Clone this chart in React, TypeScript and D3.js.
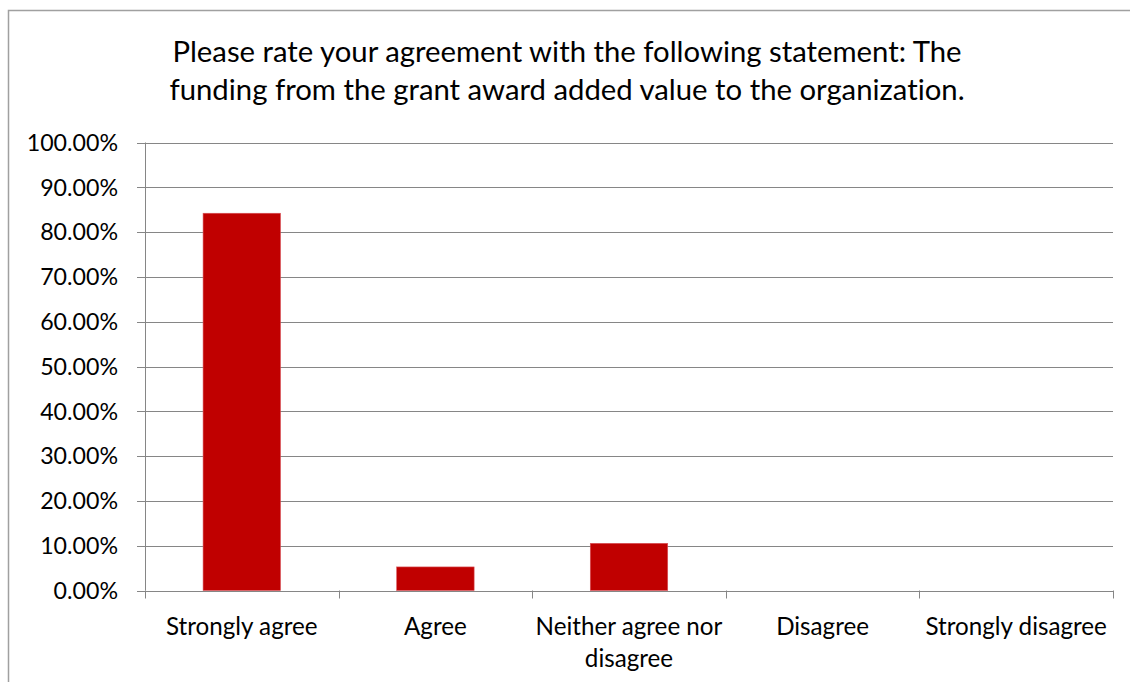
import React from "react";
import * as d3 from "d3";

const categories: string[][] = [
  ["Strongly agree"],
  ["Agree"],
  ["Neither agree nor", "disagree"],
  ["Disagree"],
  ["Strongly disagree"],
];
const categoryKeys = ["Strongly agree", "Agree", "Neither agree nor disagree", "Disagree", "Strongly disagree"];
const values = [0.8421, 0.0526, 0.1053, 0, 0];
const yTicks = [0, 0.1, 0.2, 0.3, 0.4, 0.5, 0.6, 0.7, 0.8, 0.9, 1.0];
const titleLines = [
  "Please rate your agreement with the following statement: The",
  "funding from the grant award added value to the organization.",
];

const W = 1130;
const H = 682;
const left = 145;
const right = 1113;
const top = 142.5;
const bottom = 590.5;
const FONT = "Lato, 'Open Sans', sans-serif";

export default function App() {
  const x = d3.scaleBand<string>().domain(categoryKeys).range([left, right]).paddingInner(0.6).paddingOuter(0.3);
  const y = d3.scaleLinear().domain([0, 1]).range([bottom, top]);
  const bandStep = (right - left) / categoryKeys.length;
  const bw = bandStep / 2.5;
  const fmt = (v: number) => (v * 100).toFixed(2) + "%";

  return (
    <svg width={W} height={H} style={{ position: "absolute", left: 0, top: 0, background: "#fff", fontVariantLigatures: "none" }}>
      <rect x={8.5} y={10.5} width={1130} height={700} fill="#fff" stroke="#a0a0a0" strokeWidth={1.5} />
      {titleLines.map((t, i) => (
        <text key={i} x={567} y={61.5 + i * 38} textAnchor="middle" fontFamily={FONT} fontSize={29.3} fill="#000">
          {t}
        </text>
      ))}
      {yTicks.map((t) => (
        <g key={t}>
          <line x1={137} x2={right} y1={Math.round(y(t)) + 0.5} y2={Math.round(y(t)) + 0.5} stroke="#868686" strokeWidth={1} />
          <text x={118} y={y(t) + 8.3} textAnchor="end" fontFamily={FONT} fontSize={23.2} fill="#000">
            {fmt(t)}
          </text>
        </g>
      ))}
      <line x1={left + 0.5} x2={left + 0.5} y1={top} y2={bottom} stroke="#868686" strokeWidth={1} />
      {d3.range(categoryKeys.length + 1).map((i) => {
        const xx = Math.round(left + i * bandStep) + 0.5;
        return <line key={i} x1={xx} x2={xx} y1={bottom} y2={bottom + 8} stroke="#868686" strokeWidth={1} />;
      })}
      {categoryKeys.map((c, i) => {
        const cx = left + (i + 0.5) * bandStep;
        const v = values[i];
        if (v <= 0) return null;
        return (
          <rect key={c} x={cx - bw / 2} y={y(v)} width={bw} height={y(0) - y(v)} fill="#c00000" stroke="#d9545a" strokeWidth={0.6} />
        );
      })}
      {categories.map((lines, i) => {
        const cx = left + (i + 0.5) * bandStep;
        return (
          <text key={i} x={cx} textAnchor="middle" fontFamily={FONT} fontSize={24.2} fill="#000">
            {lines.map((l, j) => (
              <tspan key={j} x={cx} y={635 + j * 31.5}>
                {l}
              </tspan>
            ))}
          </text>
        );
      })}
    </svg>
  );
}
